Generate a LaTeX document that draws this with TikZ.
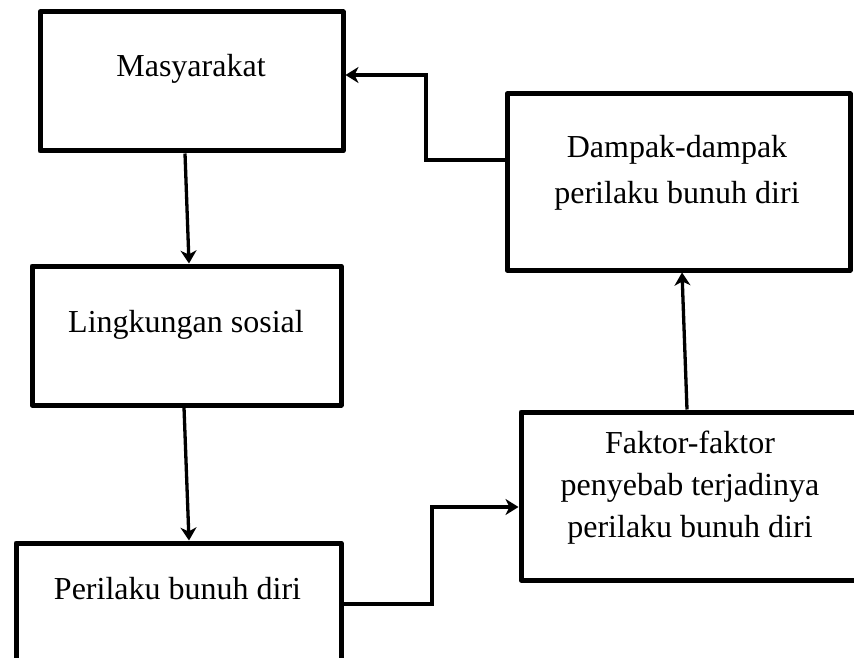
\documentclass[tikz,border=0pt]{standalone}
\usepackage{fontspec}
\setmainfont{Liberation Serif}
\usetikzlibrary{arrows.meta}

\begin{document}
\begin{tikzpicture}[x=1pt, y=-1pt]
\tikzset{kotak/.style={draw, rectangle, line width=5pt, line join=round, inner sep=0pt}}
\tikzset{teks/.style={font=\fontsize{32}{42}\selectfont, inner sep=0pt, align=center}}
\tikzset{panah/.style={line width=3.3pt, -{Stealth[length=13pt, width=16pt, inset=4pt]}}}
\useasboundingbox (0, 0) rectangle (854, 658);
\clip (0, 0) rectangle (854, 658);
% kotak-kotak
\node[kotak, minimum width=303pt, minimum height=139pt] (Masy) at (191.5, 81.5) {};
\node[kotak, minimum width=309pt, minimum height=139pt] (Ling) at (186.5, 335.5) {};
\node[kotak, minimum width=325pt, minimum height=118pt] (Peri) at (178.5, 602) {};
\node[kotak, minimum width=343pt, minimum height=176pt] (Damp) at (678.5, 182) {};
\node[kotak, minimum width=339pt, minimum height=168pt] (Fakt) at (690.5, 496) {};
% teks
\node[teks, anchor=base] (MasyT) at (191, 77) {Masyarakat};
\node[teks, anchor=base] (LingT) at (186, 332) {Lingkungan sosial};
\node[teks, anchor=base] (PeriT) at (177.5, 599) {Perilaku bunuh diri};
\node[teks] (DampT) at (677, 172.8) {Dampak-dampak\\[4.5pt]perilaku bunuh diri};
\node[teks] (FaktT) at (690, 487.5) {Faktor-faktor\\penyebab terjadinya\\perilaku bunuh diri};
% panah
\draw[panah] ([xshift=-6.5pt]Masy.south) -- ([xshift=2.5pt]Ling.north);
\draw[panah] ([xshift=-2.5pt]Ling.south) -- ([xshift=10.5pt]Peri.north);
\draw[panah] ([yshift=-2pt]Peri.east) -| ([xshift=-86.5pt, yshift=-11pt]Fakt.west) -- ([yshift=-11pt]Fakt.west);
\draw[panah] ([xshift=-3.5pt]Fakt.north) -- ([xshift=3.5pt]Damp.south);
\draw[panah] ([xshift=5pt, yshift=22pt]Damp.west) -| ([xshift=80.5pt, yshift=6.5pt]Masy.east) -- ([yshift=6.5pt]Masy.east);
\end{tikzpicture}
\end{document}
